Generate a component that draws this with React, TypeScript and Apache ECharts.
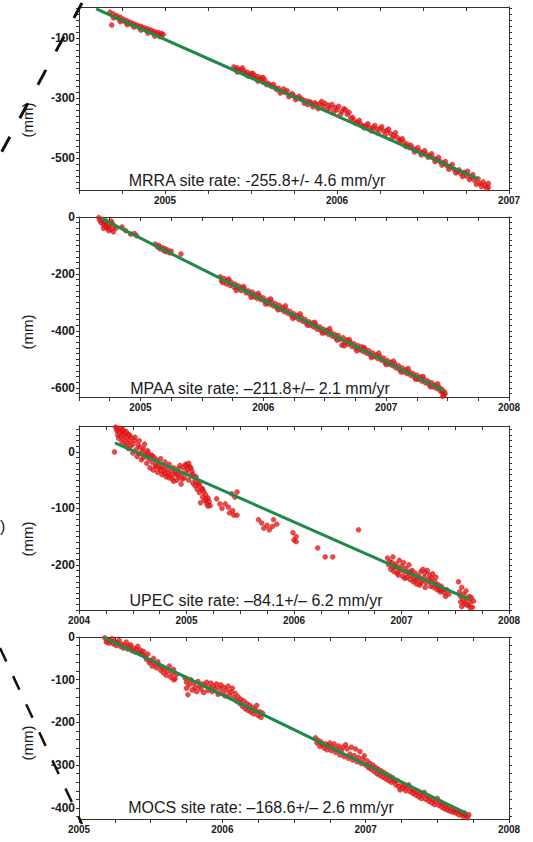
import React, { useEffect, useRef } from "react";
import * as echarts from "echarts";

// ---------------- DATA ----------------
// MRRA observations [decimal year, mm]
const mrraObs: number[][] = [
  [2004.68, -14], [2004.69, -57], [2004.70, -20], [2004.71, -30], [2004.72, -26], [2004.73, -36], [2004.74, -31],
  [2004.75, -42], [2004.76, -38], [2004.77, -47], [2004.78, -43], [2004.79, -52], [2004.80, -48], [2004.81, -57],
  [2004.82, -53], [2004.83, -60], [2004.84, -58], [2004.85, -65], [2004.86, -61], [2004.87, -70], [2004.88, -66],
  [2004.89, -74], [2004.90, -70], [2004.91, -78], [2004.92, -74], [2004.93, -83], [2004.94, -79], [2004.95, -86],
  [2004.96, -82], [2004.97, -90], [2004.98, -85], [2004.99, -89],
  [2004.70, -33], [2004.74, -46], [2004.78, -56], [2004.82, -64], [2004.86, -74], [2004.90, -84], [2004.94, -94], [2004.97, -96],
  [2005.40, -197], [2005.41, -205], [2005.42, -200], [2005.43, -212], [2005.44, -206], [2005.45, -215], [2005.46, -210],
  [2005.47, -222], [2005.48, -215], [2005.49, -228], [2005.50, -220], [2005.51, -232], [2005.52, -225], [2005.53, -236],
  [2005.54, -229], [2005.55, -240], [2005.56, -234], [2005.57, -247], [2005.58, -240], [2005.60, -252], [2005.61, -258],
  [2005.62, -262], [2005.64, -266], [2005.65, -272], [2005.66, -268], [2005.68, -278], [2005.70, -282], [2005.71, -276],
  [2005.73, -290], [2005.75, -294], [2005.77, -300], [2005.78, -295], [2005.80, -306], [2005.82, -310], [2005.84, -312],
  [2005.85, -318], [2005.87, -316], [2005.88, -322], [2005.90, -320], [2005.91, -312], [2005.92, -328], [2005.93, -318],
  [2005.95, -325], [2005.96, -335], [2005.97, -322], [2005.99, -332], [2006.00, -340], [2006.01, -328], [2006.03, -345],
  [2006.04, -336], [2006.06, -355], [2006.07, -348], [2006.09, -365], [2006.10, -375], [2006.12, -382], [2006.14, -388],
  [2006.15, -395], [2006.17, -392], [2006.19, -400], [2006.21, -398], [2006.23, -404], [2006.25, -402], [2006.27, -410],
  [2006.29, -408], [2006.31, -418], [2006.33, -425], [2006.35, -432], [2006.37, -440], [2006.39, -448], [2006.41, -455],
  [2006.42, -465], [2006.44, -468], [2006.46, -474], [2006.48, -478], [2006.50, -482], [2006.52, -488], [2006.54, -494],
  [2006.56, -500], [2006.58, -506], [2006.60, -512], [2006.62, -518], [2006.64, -526], [2006.66, -530], [2006.68, -538],
  [2006.70, -546], [2006.71, -540], [2006.72, -552], [2006.74, -548], [2006.75, -560], [2006.76, -545], [2006.78, -565],
  [2006.79, -556], [2006.80, -575], [2006.82, -570], [2006.83, -585], [2006.85, -580], [2006.86, -592], [2006.88, -598],
  [2006.88, -585],
  [2005.42, -214], [2005.45, -200], [2005.48, -226], [2005.51, -218], [2005.54, -244], [2005.57, -232], [2005.59, -256],
  [2005.63, -255], [2005.67, -284], [2005.69, -270], [2005.72, -296], [2005.74, -286], [2005.76, -306], [2005.79, -304],
  [2005.81, -318], [2005.83, -322], [2005.86, -330], [2005.89, -336], [2005.94, -340], [2005.98, -348], [2006.02, -356],
  [2006.05, -340], [2006.08, -368], [2006.11, -384], [2006.13, -375], [2006.16, -400], [2006.18, -386], [2006.20, -410],
  [2006.22, -392], [2006.24, -418], [2006.26, -396], [2006.28, -424], [2006.30, -404], [2006.32, -434], [2006.34, -416],
  [2006.36, -446], [2006.38, -436], [2006.40, -462], [2006.43, -458], [2006.45, -480], [2006.47, -466], [2006.49, -490],
  [2006.51, -476], [2006.53, -498], [2006.55, -486], [2006.57, -512], [2006.59, -498], [2006.61, -524], [2006.63, -512],
  [2006.65, -538], [2006.67, -522], [2006.69, -550], [2006.73, -562], [2006.77, -572], [2006.81, -588], [2006.84, -596],
  [2006.87, -602],
];
const mrraFit: number[][] = [[2004.60, -3], [2006.82, -570]];

// MPAA observations
const mpaaObs: number[][] = [
  [2004.66, -2], [2004.67, -12], [2004.68, -20], [2004.69, -8], [2004.70, -28], [2004.71, -18], [2004.72, -35],
  [2004.73, -24], [2004.74, -40], [2004.75, -30], [2004.76, -45], [2004.77, -22], [2004.78, -52], [2004.79, -33],
  [2004.80, -40], [2004.79, 6], [2004.81, 4], [2004.85, -35], [2004.88, -48], [2004.92, -60], [2004.95, -58], [2004.97, -66],
  [2004.70, -40], [2004.74, -48], [2004.76, -14], [2004.72, -14],
  [2005.12, -95], [2005.14, -105], [2005.15, -100], [2005.16, -112], [2005.18, -108], [2005.19, -118], [2005.20, -112],
  [2005.21, -122], [2005.22, -116], [2005.24, -126], [2005.25, -120], [2005.33, -130],
  [2005.65, -210], [2005.66, -224], [2005.68, -216], [2005.70, -235], [2005.71, -222], [2005.73, -240], [2005.74, -230],
  [2005.76, -246], [2005.77, -236], [2005.79, -250], [2005.80, -242], [2005.82, -258], [2005.83, -249], [2005.85, -254],
  [2005.86, -266], [2005.88, -260], [2005.89, -270], [2005.91, -264], [2005.92, -280], [2005.94, -272], [2005.95, -286],
  [2005.97, -278], [2005.98, -290], [2006.00, -284], [2006.01, -296], [2006.03, -300], [2006.04, -292], [2006.05, -306],
  [2006.07, -298], [2006.08, -312], [2006.10, -305], [2006.11, -318], [2006.13, -310], [2006.14, -324], [2006.16, -318],
  [2006.17, -332], [2006.19, -326], [2006.20, -338], [2006.22, -332], [2006.23, -346], [2006.25, -340], [2006.26, -352],
  [2006.28, -346], [2006.29, -360], [2006.31, -352], [2006.32, -366], [2006.34, -360], [2006.35, -372], [2006.37, -368],
  [2006.38, -380], [2006.40, -372], [2006.41, -386], [2006.43, -380], [2006.44, -394], [2006.46, -386], [2006.47, -398],
  [2006.49, -394], [2006.50, -406], [2006.52, -398], [2006.53, -412], [2006.55, -404], [2006.56, -418], [2006.58, -412],
  [2006.59, -424], [2006.61, -416], [2006.62, -430], [2006.64, -450], [2006.65, -424], [2006.66, -440], [2006.68, -432],
  [2006.69, -446], [2006.71, -440], [2006.72, -454], [2006.74, -446], [2006.75, -460], [2006.77, -452], [2006.78, -466],
  [2006.80, -456], [2006.81, -472], [2006.83, -464], [2006.84, -478], [2006.86, -470], [2006.87, -484], [2006.89, -478],
  [2006.90, -490], [2006.92, -484], [2006.93, -496], [2006.95, -490], [2006.96, -502], [2006.98, -496], [2006.99, -510],
  [2007.01, -504], [2007.02, -516], [2007.04, -510], [2007.05, -522], [2007.07, -516], [2007.08, -530], [2007.10, -522],
  [2007.11, -536], [2007.13, -530], [2007.14, -544], [2007.16, -536], [2007.17, -550], [2007.19, -544], [2007.20, -556],
  [2007.22, -550], [2007.23, -562], [2007.25, -556], [2007.26, -570], [2007.28, -562], [2007.29, -576], [2007.31, -570],
  [2007.32, -582], [2007.34, -576], [2007.35, -588], [2007.37, -582], [2007.38, -596], [2007.40, -590], [2007.41, -602],
  [2007.43, -598], [2007.44, -610], [2007.45, -604], [2007.46, -618], [2007.47, -612], [2007.47, -626], [2007.48, -620],
  [2005.67, -230], [2005.72, -218], [2005.78, -258], [2005.84, -244], [2005.90, -282], [2005.96, -268], [2006.02, -306],
  [2006.06, -288], [2006.12, -326], [2006.18, -312], [2006.24, -356], [2006.30, -340], [2006.36, -380], [2006.42, -370],
  [2006.48, -408], [2006.54, -392], [2006.60, -432], [2006.66, -452], [2006.70, -430], [2006.76, -470], [2006.82, -458],
  [2006.88, -494], [2006.94, -478], [2007.00, -518], [2007.06, -506], [2007.12, -544], [2007.18, -532], [2007.24, -570],
  [2007.30, -560], [2007.36, -596], [2007.42, -586], [2007.46, -630],
];
const mpaaFit: number[][] = [[2004.68, -5], [2007.47, -610]];

// UPEC observations
const upecObs: number[][] = [
  [2004.33, 0], [2004.34, 44], [2004.35, 38], [2004.36, 30], [2004.36, 41], [2004.37, 24], [2004.38, 35], [2004.39, 28],
  [2004.40, 18], [2004.40, 38], [2004.41, 31], [2004.42, 22], [2004.43, 12], [2004.43, 34], [2004.44, 26], [2004.45, 16],
  [2004.46, 6], [2004.46, 30], [2004.47, 20], [2004.48, 10], [2004.49, 25], [2004.50, -2], [2004.50, 14], [2004.52, 20],
  [2004.53, 4], [2004.54, -8], [2004.55, 12], [2004.56, -3], [2004.57, 8], [2004.58, -14], [2004.59, 0], [2004.60, -10],
  [2004.61, 14], [2004.62, -5], [2004.63, -20], [2004.64, 2], [2004.65, -12], [2004.66, -28], [2004.67, -6], [2004.68, -18],
  [2004.69, -32], [2004.70, -10], [2004.71, -24], [2004.72, -14], [2004.73, -36], [2004.74, -20], [2004.75, -28],
  [2004.76, -12], [2004.77, -40], [2004.78, -26], [2004.79, -33], [2004.80, -18], [2004.81, -44], [2004.82, -30],
  [2004.83, -38], [2004.84, -22], [2004.85, -42], [2004.86, -34], [2004.87, -48], [2004.88, -28], [2004.89, -40],
  [2004.90, -36], [2004.91, -50], [2004.92, -30], [2004.93, -44], [2004.94, -24], [2004.95, -57], [2004.96, -38],
  [2004.97, -28], [2004.98, -46], [2004.99, -22], [2005.00, -36], [2005.01, -30], [2005.02, -50], [2005.03, -26],
  [2005.04, -42], [2005.05, -34], [2005.06, -55], [2005.07, -45], [2005.08, -60], [2005.09, -52], [2005.10, -66],
  [2005.11, -58], [2005.12, -72], [2005.13, -90], [2005.14, -64], [2005.15, -80], [2005.16, -70], [2005.17, -86],
  [2005.18, -76], [2005.19, -92], [2005.20, -82], [2005.21, -88], [2005.22, -95],
  [2004.38, 42], [2004.41, 40], [2004.44, 36], [2004.47, 30], [2004.52, 26], [2004.56, 20], [2004.60, 6], [2004.64, -2],
  [2004.68, -6], [2004.72, -26], [2004.76, -32], [2004.80, -38], [2004.84, -46], [2004.88, -52], [2004.92, -40],
  [2004.96, -48], [2005.00, -24], [2005.02, -20], [2005.04, -28], [2005.06, -40], [2005.09, -44], [2005.12, -56],
  [2005.15, -66], [2005.18, -84], [2005.20, -96],
  [2005.28, -83], [2005.31, -92], [2005.33, -100], [2005.36, -92], [2005.39, -98], [2005.40, -108], [2005.42, -74],
  [2005.43, -104], [2005.44, -112], [2005.45, -80], [2005.47, -112], [2005.47, -71],
  [2005.67, -120], [2005.70, -126], [2005.72, -135], [2005.75, -130], [2005.77, -138], [2005.80, -132], [2005.81, -120],
  [2005.84, -128],
  [2005.99, -143], [2006.00, -156], [2006.02, -159], [2006.02, -150], [2006.22, -170], [2006.29, -186], [2006.36, -186],
  [2006.60, -138],
  [2006.87, -188], [2006.88, -200], [2006.89, -194], [2006.90, -208], [2006.91, -196], [2006.92, -186], [2006.93, -212],
  [2006.94, -203], [2006.95, -198], [2006.96, -215], [2006.97, -206], [2006.98, -192], [2006.99, -210], [2007.00, -202],
  [2007.01, -220], [2007.02, -196], [2007.03, -212], [2007.04, -206], [2007.05, -222], [2007.06, -214], [2007.07, -200],
  [2007.08, -226], [2007.09, -218], [2007.10, -210], [2007.11, -230], [2007.12, -222], [2007.13, -215], [2007.14, -234],
  [2007.15, -225], [2007.16, -220], [2007.17, -236], [2007.18, -212], [2007.19, -228], [2007.20, -208], [2007.21, -222],
  [2007.22, -214], [2007.23, -232], [2007.24, -210], [2007.25, -226], [2007.26, -218], [2007.27, -238], [2007.28, -224],
  [2007.29, -216], [2007.30, -240], [2007.31, -230], [2007.32, -222], [2007.33, -244], [2007.34, -235], [2007.35, -240],
  [2007.36, -248], [2007.37, -238], [2007.38, -245], [2007.40, -250], [2007.42, -244], [2007.44, -252],
  [2006.92, -204], [2006.97, -218], [2007.03, -224], [2007.08, -212], [2007.13, -228], [2007.18, -232], [2007.22, -240],
  [2007.27, -230], [2007.32, -236], [2007.36, -244], [2007.41, -256],
  [2007.53, -230], [2007.54, -248], [2007.55, -256], [2007.56, -240], [2007.57, -262], [2007.58, -252], [2007.59, -268],
  [2007.60, -246], [2007.61, -260], [2007.62, -272], [2007.63, -256], [2007.64, -266], [2007.65, -258], [2007.66, -275],
  [2007.67, -264], [2007.56, -274], [2007.55, -266], [2007.60, -270], [2007.64, -276],
];
const upecFit: number[][] = [[2004.335, 16], [2007.64, -262]];

// MOCS observations
const mocsObs: number[][] = [
  [2005.18, -2], [2005.19, -12], [2005.20, -6], [2005.21, -14], [2005.22, -9], [2005.23, -4], [2005.24, -16], [2005.25, -11],
  [2005.26, -20], [2005.27, -14], [2005.28, -8], [2005.29, -22], [2005.30, -17], [2005.31, -26], [2005.32, -20],
  [2005.33, -12], [2005.34, -28], [2005.35, -22], [2005.36, -18], [2005.37, -32], [2005.38, -26], [2005.39, -35],
  [2005.40, -29], [2005.41, -22], [2005.42, -38], [2005.43, -31], [2005.44, -40], [2005.45, -34],
  [2005.46, -45], [2005.47, -52], [2005.48, -40], [2005.49, -60], [2005.50, -55], [2005.51, -68], [2005.52, -50],
  [2005.53, -62], [2005.54, -72], [2005.55, -58], [2005.56, -66], [2005.57, -78], [2005.58, -70], [2005.59, -84],
  [2005.60, -74], [2005.61, -90], [2005.62, -80], [2005.63, -68], [2005.64, -94], [2005.65, -85], [2005.66, -76],
  [2005.67, -98], [2005.68, -88], [2005.66, -100],
  [2005.74, -96], [2005.75, -120], [2005.75, -106], [2005.76, -135], [2005.77, -112], [2005.78, -100], [2005.79, -124],
  [2005.80, -108], [2005.81, -118], [2005.82, -128], [2005.83, -104], [2005.84, -115], [2005.85, -122], [2005.86, -110],
  [2005.87, -130], [2005.88, -114], [2005.89, -106], [2005.90, -125], [2005.91, -118], [2005.92, -108], [2005.93, -128],
  [2005.94, -115], [2005.95, -122], [2005.96, -110], [2005.97, -134], [2005.98, -120], [2005.99, -112], [2006.00, -130],
  [2006.01, -118], [2006.02, -138], [2006.03, -125], [2006.04, -115], [2006.05, -136], [2006.06, -128], [2006.07, -120],
  [2006.08, -142], [2006.09, -132], [2006.10, -150], [2006.11, -140], [2006.12, -155], [2006.13, -146], [2006.14, -162],
  [2006.15, -150], [2006.16, -168], [2006.17, -156], [2006.18, -172], [2006.19, -160], [2006.20, -176], [2006.21, -165],
  [2006.22, -180], [2006.23, -170], [2006.24, -160], [2006.25, -184], [2006.26, -175], [2006.27, -188], [2006.28, -178],
  [2006.65, -236], [2006.66, -248], [2006.67, -242], [2006.68, -256], [2006.69, -246], [2006.70, -252], [2006.71, -260],
  [2006.72, -250], [2006.73, -264], [2006.74, -255], [2006.75, -248], [2006.76, -266], [2006.77, -258], [2006.78, -250],
  [2006.79, -270], [2006.80, -262], [2006.81, -255], [2006.82, -276], [2006.83, -266], [2006.84, -258], [2006.85, -280],
  [2006.86, -252], [2006.87, -262], [2006.88, -284], [2006.89, -274], [2006.90, -258], [2006.91, -288], [2006.92, -278],
  [2006.93, -262], [2006.94, -292], [2006.95, -282], [2006.96, -268], [2006.97, -296], [2006.98, -286], [2006.99, -278],
  [2007.00, -300], [2007.01, -290], [2007.02, -306], [2007.03, -296], [2007.04, -310], [2007.05, -300], [2007.06, -315],
  [2007.07, -305], [2007.08, -320], [2007.09, -310], [2007.10, -324], [2007.11, -314], [2007.12, -328], [2007.13, -318],
  [2007.14, -332], [2007.15, -322], [2007.16, -336], [2007.17, -326], [2007.18, -340], [2007.19, -330], [2007.20, -338],
  [2007.21, -346], [2007.22, -336], [2007.23, -350], [2007.24, -358], [2007.25, -345], [2007.26, -354], [2007.27, -348],
  [2007.28, -360], [2007.29, -352], [2007.30, -346], [2007.31, -362], [2007.32, -355], [2007.33, -366], [2007.34, -358],
  [2007.35, -370], [2007.36, -362], [2007.37, -374], [2007.38, -366], [2007.39, -378], [2007.40, -370], [2007.41, -364],
  [2007.42, -380], [2007.43, -372], [2007.44, -384], [2007.45, -376], [2007.46, -388], [2007.47, -380], [2007.48, -392],
  [2007.49, -384], [2007.50, -378], [2007.51, -394], [2007.52, -386], [2007.53, -398], [2007.54, -390], [2007.55, -402],
  [2007.56, -394], [2007.57, -405], [2007.58, -398], [2007.59, -408], [2007.60, -400], [2007.61, -410], [2007.62, -404],
  [2007.63, -412], [2007.64, -406], [2007.65, -416], [2007.66, -409], [2007.67, -414], [2007.68, -420], [2007.69, -412],
  [2007.70, -418], [2007.71, -423], [2007.72, -416],
];
const mocsFit: number[][] = [[2005.18, -2], [2007.71, -414]];

// Labels and tick labels
const siteLabels = [
  "MRRA site rate: -255.8+/- 4.6 mm/yr",
  "MPAA site rate: \u2013211.8+/\u2013 2.1 mm/yr",
  "UPEC site rate: \u201384.1+/\u2013 6.2 mm/yr",
  "MOCS site rate: \u2013168.6+/\u2013 2.6 mm/yr",
];
const xTickLabels = [
  [2005, 2006, 2007],
  [2005, 2006, 2007, 2008],
  [2004, 2005, 2006, 2007, 2008],
  [2005, 2006, 2007, 2008],
];
const yTickLabels = [
  [-100, -300, -500],
  [0, -200, -400, -600],
  [0, -100, -200],
  [-400, -300, -200, -100, 0],
];
const xRanges = [[2004.5, 2007], [2004.5, 2008], [2004, 2008], [2005, 2008]];
const yRanges = [[-607, 3], [-632, 0], [-280, 46], [-426, 0]];
const yMinorSteps = [20, 20, 10, 20];

// ---------------- LAYOUT / STYLE ----------------
const FONT = '"Liberation Sans", Arial, Helvetica, sans-serif';
const layout = [
  { top: 7, height: 183, textX: 257, textY: 180, mmY: 120 },
  { top: 217, height: 180, textX: 260, textY: 388, mmY: 332 },
  { top: 426, height: 184, textX: 256, textY: 600, mmY: 539 },
  { top: 637, height: 182, textX: 261, textY: 807, mmY: 743 },
];
const GRID_LEFT = 79;
const GRID_WIDTH = 430;
const AXIS_COLOR = "#333";
const RED = "#ec1a1a";
const GREEN = "#1f8a48";

function ticksBetween(min: number, max: number, step: number): number[] {
  const out: number[] = [];
  const start = Math.ceil(min / step) * step;
  for (let v = start; v <= max + 1e-9; v += step) out.push(Math.round(v * 1000) / 1000);
  return out;
}

const obsList = [mrraObs, mpaaObs, upecObs, mocsObs];
const fitList = [mrraFit, mpaaFit, upecFit, mocsFit];

function buildOption() {
  const grid: any[] = [];
  const xAxis: any[] = [];
  const yAxis: any[] = [];
  const series: any[] = [];
  const graphic: any[] = [];

  layout.forEach((l, i) => {
    grid.push({ left: GRID_LEFT, top: l.top, width: GRID_WIDTH, height: l.height, containLabel: false });
    const [xmin, xmax] = xRanges[i];
    const [ymin, ymax] = yRanges[i];
    const quarter = ticksBetween(xmin, xmax, 0.25);
    const yMinor = ticksBetween(ymin, ymax, yMinorSteps[i]);
    const line = { show: true, onZero: false, lineStyle: { color: AXIS_COLOR, width: 1 } };

    xAxis.push({
      type: "value", gridIndex: i, position: "bottom", min: xmin, max: xmax,
      axisLine: line,
      axisTick: { show: true, customValues: quarter, length: 4, lineStyle: { color: AXIS_COLOR } },
      axisLabel: {
        show: true, customValues: xTickLabels[i], margin: 5, fontSize: 10, fontWeight: "bold", color: "#1a1a1a",
        fontFamily: FONT, formatter: (v: number) => String(Math.round(v)),
      },
      splitLine: { show: false },
    });
    xAxis.push({
      type: "value", gridIndex: i, position: "top", min: xmin, max: xmax,
      axisLine: line,
      axisTick: { show: true, inside: true, customValues: quarter, length: 4, lineStyle: { color: AXIS_COLOR } },
      axisLabel: { show: false },
      splitLine: { show: false },
    });
    yAxis.push({
      type: "value", gridIndex: i, position: "left", min: ymin, max: ymax,
      axisLine: line,
      axisTick: { show: true, customValues: yMinor, length: 3, lineStyle: { color: AXIS_COLOR } },
      axisLabel: {
        show: true, customValues: yTickLabels[i], margin: 4, fontSize: 12, fontWeight: "bold", color: "#1a1a1a",
        fontFamily: FONT, formatter: (v: number) => String(Math.round(v)),
      },
      splitLine: { show: false },
    });
    yAxis.push({
      type: "value", gridIndex: i, position: "right", min: ymin, max: ymax,
      axisLine: line,
      axisTick: { show: true, customValues: yMinor, length: 3, lineStyle: { color: AXIS_COLOR } },
      axisLabel: { show: false },
      splitLine: { show: false },
    });

    series.push({
      type: "scatter", xAxisIndex: 2 * i, yAxisIndex: 2 * i, data: obsList[i],
      symbol: "circle", symbolSize: 5,
      itemStyle: { color: RED, borderColor: "#b00000", borderWidth: 0.4 },
      z: 2,
    });
    series.push({
      type: "line", xAxisIndex: 2 * i, yAxisIndex: 2 * i, data: fitList[i],
      showSymbol: false, symbol: "none",
      lineStyle: { color: GREEN, width: 3 },
      z: 3,
    });

    graphic.push({
      type: "text", x: l.textX, y: l.textY, z: 10,
      style: {
        text: siteLabels[i], fontSize: 16, fontFamily: FONT, fill: "#1a1a1a",
        textAlign: "center", textVerticalAlign: "middle",
      },
    });
    graphic.push({
      type: "text", x: 27, y: l.mmY, rotation: Math.PI / 2, z: 10,
      style: {
        text: "(mm)", fontSize: 15, fontFamily: FONT, fill: "#1a1a1a",
        textAlign: "center", textVerticalAlign: "middle",
      },
    });
  });

  // fragments of the surrounding figure
  graphic.push({
    type: "line", z: 20,
    shape: { x1: 82, y1: 3, x2: 0, y2: 155 },
    style: { stroke: "#111", lineWidth: 3, lineDash: [17, 21] },
  });
  graphic.push({
    type: "line", z: 20,
    shape: { x1: 0, y1: 648, x2: 82, y2: 824 },
    style: { stroke: "#111", lineWidth: 2.5, lineDash: [15, 16] },
  });
  graphic.push({
    type: "text", x: 0, y: 526, z: 20,
    style: { text: ")", fontSize: 16, fontFamily: FONT, fill: "#1a1a1a", textAlign: "left", textVerticalAlign: "middle" },
  });

  return {
    animation: false,
    backgroundColor: "#ffffff",
    grid, xAxis, yAxis, series, graphic,
  };
}

export default function App() {
  const ref = useRef<HTMLDivElement>(null);
  useEffect(() => {
    if (!ref.current) return;
    const chart = echarts.init(ref.current, undefined, { renderer: "svg" });
    chart.setOption(buildOption() as any);
    return () => chart.dispose();
  }, []);
  return (
    <div
      ref={ref}
      style={{ position: "absolute", left: 0, top: 0, width: 533, height: 842, background: "#fff" }}
    />
  );
}
